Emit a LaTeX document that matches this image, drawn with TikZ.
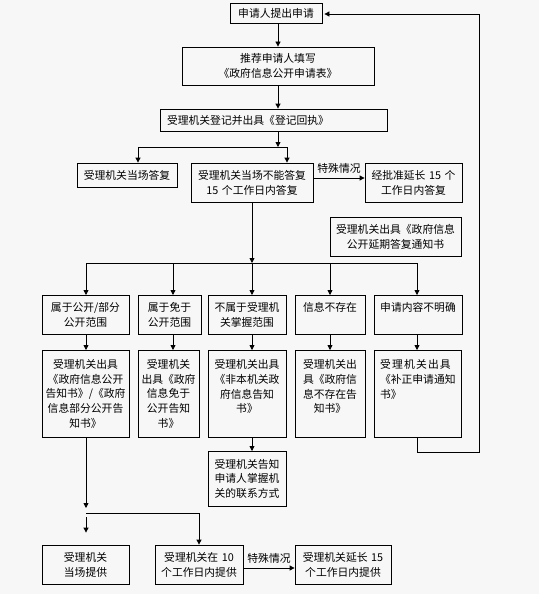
\documentclass[tikz,border=0pt]{standalone}
\usepackage{fontspec}
\setmainfont{Noto Sans CJK SC}
\usetikzlibrary{arrows.meta}
\definecolor{bg}{HTML}{F7F7F7}
\tikzset{
  box/.style={draw, line width=0.8pt, inner sep=2pt, font=\fontsize{10.8pt}{14.8pt}\selectfont, align=center},
  line/.style={line width=0.8pt},
  arr/.style={line width=0.8pt, -{Triangle[length=5pt,width=5pt]}},
  lbl/.style={font=\fontsize{10.8pt}{12pt}\selectfont, inner sep=1pt},
}
\newcommand{\bx}[7][]{%
  \node[box, minimum width=#5pt, minimum height=#6pt, text width=#5pt-4pt, #1] (#2) at (#3,#4) {#7};}
\begin{document}
\begin{tikzpicture}[x=1pt,y=-1pt]
\fill[bg] (0,0) rectangle (539,594);
\useasboundingbox (0,0) rectangle (539,594);
% top chain
\bx{b1}{276}{13}{92}{20}{申请人提出申请}
\bx{b2}{278}{66}{192}{38}{推荐申请人填写\\《政府信息公开申请表》}
\bx[align=left]{b3}{273.5}{120}{227}{22}{\hspace*{5pt}受理机关登记并出具《登记回执》}
\bx{b4}{127}{175}{100}{24}{受理机关当场答复}
\bx{b5}{252}{182.5}{122}{39}{受理机关当场不能答复\\15 个工作日内答复}
\bx{b6}{413.5}{182.5}{97}{39}{经批准延长 15 个\\工作日内答复}
\bx{b7}{395.5}{236.5}{131}{39}{受理机关出具《政府信息\\公开延期答复通知书}
% row 1
\bx[anchor=north]{r1a}{85.5}{295}{87}{39}{属于公开/部分\\公开范围}
\bx[anchor=north]{r1b}{169.5}{295}{63}{39}{属于免于\\公开范围}
\bx[anchor=north]{r1c}{247}{295}{78}{39}{不属于受理机\\关掌握范围}
\bx[anchor=north]{r1d}{330}{295}{70}{39}{信息不存在\\\vphantom{信}}
\bx[anchor=north]{r1e}{418}{295}{88}{39}{申请内容不明确\\\vphantom{信}}
% row 2
\bx[anchor=north]{r2a}{85.5}{350}{87}{87}{受理机关出具\\《政府信息公开\\告知书》/《政府\\信息部分公开告\\知书》}
\bx[anchor=north]{r2b}{168.5}{350}{61}{87}{受理机关\\出具《政府\\信息免于\\公开告知\\书》}
\bx[anchor=north]{r2c}{247}{350}{78}{87}{受理机关出具\\《非本机关政\\府信息告知\\书》\\\vphantom{信}}
\bx[anchor=north]{r2d}{330}{350}{70}{87}{受理机关出\\具《政府信\\息不存在告\\知书》\\\vphantom{信}}
\bx[anchor=north, align=left]{r2e}{417.5}{350}{87}{87}{\hspace*{4pt}受\kern1.2pt 理\kern1.2pt 机\kern1.2pt 关\kern1.2pt 出\kern1.2pt 具\\\hspace*{4pt}《补正申请通知\\\hspace*{4pt}书》\\\vphantom{信}\\\vphantom{信}}
\bx[anchor=north]{r2c2}{247}{451}{78}{55}{受理机关告知\\申请人掌握机\\关的联系方式}
% bottom
\bx{bf}{85.5}{564.5}{87}{39}{受理机关\\当场提供}
\bx{bg}{199}{564.5}{88}{39}{受理机关在 10\\个工作日内提供}
\bx{bh}{343}{564.5}{96}{39}{受理机关延长 15\\个工作日内提供}
% coordinates
\coordinate (j1) at (278,147);
\coordinate (j2) at (252,263);
\coordinate (j3) at (86,513);
\coordinate (cL) at (138,0);
\coordinate (cR) at (287,0);
\coordinate (c1) at (86,0);
\coordinate (c2) at (173,0);
\coordinate (c3) at (252,0);
\coordinate (c4) at (330,0);
\coordinate (c5) at (417,0);
\coordinate (ya) at (0,178);
\coordinate (yb) at (0,568);
\coordinate (fb1) at (417,452);
\coordinate (fb2) at (479,452);
\coordinate (fb3) at (479,14);
% connectors top
\draw[arr] (b1.south -| j1) -- (b2.north -| j1);
\draw[arr] (b2.south -| j1) -- (b3.north -| j1);
\draw[arr] (b3.south -| j1) -- (j1);
\draw[line] (j1 -| cL) -- (j1 -| cR);
\draw[arr] (j1 -| cL) -- (b4.north -| cL);
\draw[arr] (j1 -| cR) -- (b5.north -| cR);
\draw[arr] (b5.east |- ya) -- node[lbl, above, yshift=3pt] {特殊情况} (b6.west |- ya);
% trunk to row1
\draw[arr] (b5.south -| j2) -- (j2);
\draw[line] (j2 -| c1) -- (j2 -| c5);
\foreach \c/\a/\b in {c1/r1a/r2a,c2/r1b/r2b,c3/r1c/r2c,c4/r1d/r2d,c5/r1e/r2e}{
  \draw[arr] (j2 -| \c) -- (\a.north -| \c);
  \draw[arr] (\a.south -| \c) -- (\b.north -| \c);
}
\draw[arr] (r2c.south -| c3) -- (r2c2.north -| c3);
% feedback loop
\draw[arr] (r2e.south -| fb1) -- (fb1) -- (fb2) -- (fb3) -- ([xshift=2pt]b1.east |- fb3);
% bottom connectors
\draw[arr] (r2a.south -| j3) -- ([yshift=5pt]j3);
\draw[line] (j3) -- (j3 -| bg.north);
\draw[arr] (j3 -| bg.north) -- (bg.north);
\draw[arr] ([yshift=-4pt]j3) -- ([yshift=12pt]bf.north -| j3);
\draw[arr] (bg.east |- yb) -- node[lbl, above, yshift=3pt] {特殊情况} (bh.west |- yb);
\end{tikzpicture}
\end{document}
